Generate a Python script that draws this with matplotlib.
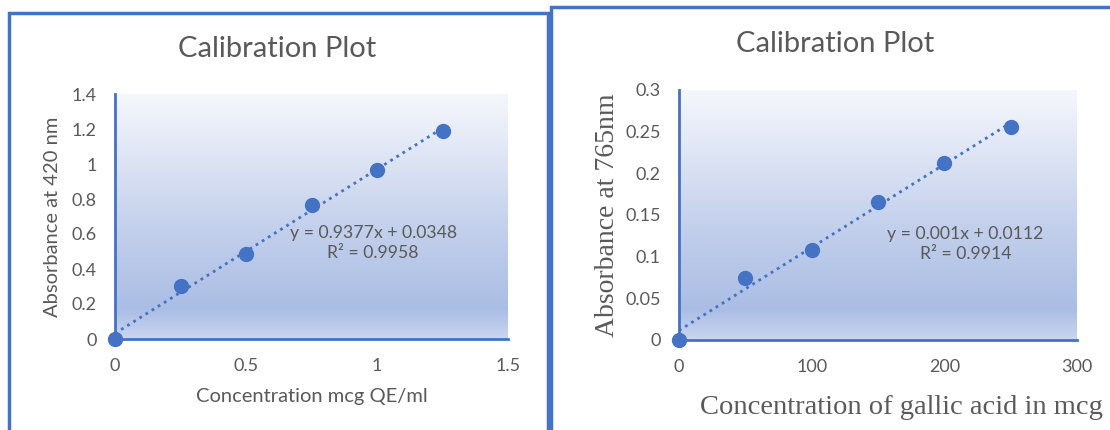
import numpy as np
import matplotlib.pyplot as plt
from matplotlib.colors import LinearSegmentedColormap
from matplotlib.patches import Rectangle

# left panel data (flavonoid / quercetin)
conc_qe = [0, 0.25, 0.5, 0.75, 1.0, 1.25]
abs_420 = [0, 0.305, 0.485, 0.765, 0.965, 1.19]
eq_left = "y = 0.9377x + 0.0348\nR² = 0.9958"

# right panel data (gallic acid)
conc_ga = [0, 50, 100, 150, 200, 250]
abs_765 = [0, 0.075, 0.108, 0.166, 0.212, 0.255]
eq_right = "y = 0.001x + 0.0112\nR² = 0.9914"

W, H = 1110, 430
blue = '#4472c4'
grey = '#595959'
sans = 'Lato'
serif = 'Liberation Serif'

grad = LinearSegmentedColormap.from_list(
    'xl', [(0, '#f5f7fc'), (0.55, '#c3d0ec'), (0.88, '#aabde4'), (1.0, '#cad6f0')])


def px_axes(fig, x0, x1, ytop, ybot):
    return fig.add_axes([x0 / W, 1 - ybot / H, (x1 - x0) / W, (ybot - ytop) / H])


def draw_panel(ax, x, y, xmax, ymax, xticks, yticks, xfmt, yfmt, eq, eq_xy):
    g = np.linspace(0, 1, 256).reshape(-1, 1)
    ax.imshow(g, cmap=grad, aspect='auto', origin='upper',
              extent=[0, xmax, 0, ymax], zorder=0)
    ax.set_xlim(0, xmax)
    ax.set_ylim(0, ymax)
    for s in ['top', 'right']:
        ax.spines[s].set_visible(False)
    for s in ['left', 'bottom']:
        ax.spines[s].set_color(blue)
        ax.spines[s].set_linewidth(2)
    ax.set_xticks(xticks)
    ax.set_yticks(yticks)
    ax.set_xticklabels([xfmt(v) for v in xticks])
    ax.set_yticklabels([yfmt(v) for v in yticks])
    ax.tick_params(length=0, colors=grey, labelsize=13)
    ax.tick_params(axis='y', pad=13)
    ax.tick_params(axis='x', pad=14)
    for t in ax.get_xticklabels() + ax.get_yticklabels():
        t.set_fontfamily(sans)
    # trendline from a linear fit
    k, b = np.polyfit(x, y, 1)
    xs = np.array([0, max(x)])
    ax.plot(xs, k * xs + b, color=blue, lw=2, linestyle=(0, (1, 1.6)), zorder=2)
    ax.plot(x, y, 'o', color=blue, markersize=10, zorder=3, clip_on=False)
    ax.text(eq_xy[0], eq_xy[1], eq, ha='center', va='center', color=grey,
            fontsize=12.7, family=sans, linespacing=1.3)


fig = plt.figure(figsize=(W / 100, H / 100), dpi=100)

# panel borders
fig.patches.append(Rectangle((9 / W, -0.1), 539 / W, 1.1 - 13 / H, transform=fig.transFigure,
                             fill=False, edgecolor=blue, lw=2.5))
fig.patches.append(Rectangle((551 / W, -0.1), 0.6, 1.1 - 7 / H, transform=fig.transFigure,
                             fill=False, edgecolor=blue, lw=2.5))

ax1 = px_axes(fig, 115, 508, 94, 339)
draw_panel(ax1, conc_qe, abs_420, 1.5, 1.4, [0, 0.5, 1, 1.5], np.arange(0, 1.41, 0.2),
           lambda v: '%g' % v, lambda v: '%g' % round(v, 1), eq_left, (0.985, 0.55))
ax1.set_xlabel('Concentration mcg QE/ml', family=sans, fontsize=14.5, color=grey, labelpad=10)
ax1.set_ylabel('Absorbance at 420 nm', family=sans, fontsize=14.5, color=grey, labelpad=8)
fig.text(277 / W, 1 - 49 / H, 'Calibration Plot', ha='center', va='center',
         family=sans, fontsize=21, color=grey)

ax2 = px_axes(fig, 679, 1077, 90, 340)
draw_panel(ax2, conc_ga, abs_765, 300, 0.3, [0, 100, 200, 300], np.arange(0, 0.301, 0.05),
           lambda v: '%g' % v, lambda v: '%g' % round(v, 2), eq_right, (216, 0.115))
ax2.set_xlabel('Concentration of gallic acid in mcg', family=serif, fontsize=20.5,
               color=grey, labelpad=14, x=0.56)
ax2.set_ylabel('Absorbance at 765nm', family=serif, fontsize=20, color=grey, labelpad=4)
fig.text(835 / W, 1 - 44 / H, 'Calibration Plot', ha='center', va='center',
         family=sans, fontsize=21, color=grey)

fig.savefig('out.png', dpi=100)
